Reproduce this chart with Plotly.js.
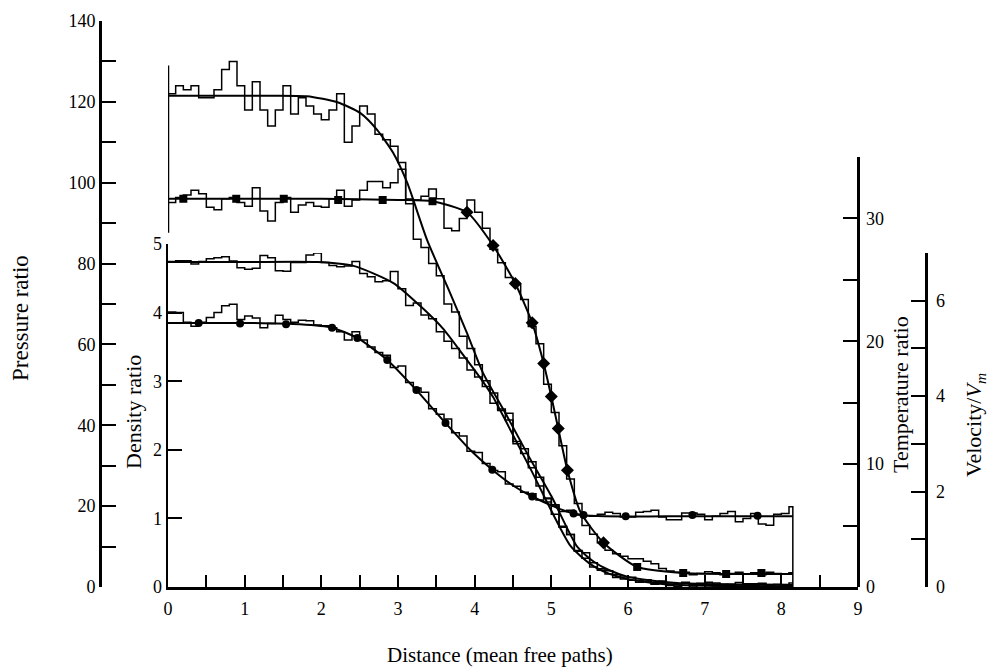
<!DOCTYPE html>
<html>
<head>
<meta charset="utf-8">
<script src="https://cdn.plot.ly/plotly-3.0.1.min.js"></script>
<style>html,body{margin:0;padding:0;background:#fff;}#chart{width:992px;height:669px;}</style>
</head>
<body>
<div id="chart"></div>
<script>
// ---------- data ----------
const histX = [0,0.1,0.2,0.3,0.4,0.5,0.6,0.7,0.8,0.9,
  1,1.1,1.2,1.3,1.4,1.5,1.6,1.7,1.8,1.9,
  2,2.1,2.2,2.3,2.4,2.5,2.6,2.7,2.8,2.9,
  3,3.1,3.2,3.3,3.4,3.5,3.6,3.7,3.8,3.9,
  4,4.1,4.2,4.3,4.4,4.5,4.6,4.7,4.8,4.9,
  5,5.1,5.2,5.3,5.4,5.5,5.6,5.7,5.8,5.9,
  6,6.1,6.2,6.3,6.4,6.5,6.6,6.7,6.8,6.9,
  7,7.1,7.2,7.3,7.4,7.5,7.6,7.7,7.8,7.9,
  8,8.1,8.15];

const pressHist = [122,124,123,124,121,121,123,128,130,124,118,125,118,114,118,124,117,121,119,117,115.6,118,122,110,114,119,117,112,110.6,109,105,96,
  86,84,80,77,70,68,62,59,55,51,48,44,43,36,33,31,25,22,18,15,13,9,8.5,6,4.5,4,3,2.5,
  2.4,1.6,1.8,1.2,1.5,1.0,0.8,1.2,0.6,0.9,0.4,1.0,0.7,0.5,1.1,0.8,0.3,0.9,0.6,0.7,0.4,1.0];
const velHist = [6.82,6.84,6.84,6.77,6.82,6.88,6.90,6.92,6.83,6.69,6.66,6.68,6.95,6.9,6.63,6.62,6.8,6.8,6.96,7.0,6.8,6.74,6.71,6.73,6.82,6.57,6.5,6.40,6.42,6.61,6.25,5.9,
  5.95,5.7,5.62,5.35,5.15,5.0,4.8,4.55,4.4,4.2,3.85,3.7,3.5,3.0,2.9,2.5,2.3,1.85,1.7,1.25,1.1,0.75,0.6,0.42,0.35,0.27,0.2,0.17,
  0.14,0.1,0.12,0.06,0.09,0.03,0.01,0.08,0.0,0.05,0.1,0.02,0.03,0.06,0.0,0.04,0.07,0.01,0.04,0.0,0.05,0.03];
const densHist = [4.01,4.0,3.86,3.80,3.86,3.93,4.0,4.1,4.12,3.9,3.95,3.92,3.78,3.84,3.96,3.9,3.86,3.89,3.88,3.82,3.81,3.78,3.72,3.6,3.72,3.6,3.5,
  3.42,3.38,3.2,3.22,2.98,2.9,2.84,2.6,2.52,2.45,2.25,2.2,1.98,1.96,1.8,1.7,1.68,1.5,1.47,1.38,1.36,1.27,1.24,1.2,1.1,1.12,1.05,1.04,
  1.03,1.06,1.09,1.07,1.02,1.02,1.09,1.1,1.12,1.02,0.98,0.98,1.08,1.08,1.06,0.98,1.03,1.07,1.1,0.95,1.0,1.07,0.92,0.9,1.06,1.07,1.17];
const tempHist = [31.3,31.7,31.9,32.3,32.0,30.9,30.7,31.6,31.7,31.3,31.0,32.5,30.6,29.8,31.3,31.7,30.5,31.1,31.3,31.0,30.9,31.6,32.3,31.0,31.5,32.3,33.0,33.0,32.5,32.9,34.0,31.2,31.5,31.8,32.4,31.6,29.2,29.0,30.0,31.5,30.5,29.2,
  27.5,26.4,25.2,24.6,23.4,21.2,19.8,16.5,14.2,11.5,8.8,6.8,5.0,4.3,3.6,3.0,2.7,2.5,2.3,2.3,2.1,1.9,1.5,1.3,1.2,
  1.2,1.0,1.1,1.25,1.15,1.0,1.1,1.2,1.05,1.15,1.0,1.2,1.1,1.05,1.15];

const pressX = [0,1.0,1.81,2.21,2.51,2.73,2.94,3.12,3.38,3.68,3.90,4.11,4.43,4.70,5.0,5.34,5.55,5.75,6.0,6.3,6.64,7.2,8.15];
const pressY = [121.5,121.5,121.4,119.9,117.2,113,107.3,100,85.8,72.7,62.8,52.9,42.0,32.5,22.5,9.9,6.3,4.2,2.5,1.6,1.0,0.7,0.5];
const velX = [0,1.0,1.95,2.42,2.94,3.33,3.59,3.81,4.11,4.24,4.73,5.25,5.51,5.75,5.99,6.3,6.68,7.3,8.15];
const velY = [6.81,6.81,6.81,6.73,6.37,5.83,5.41,4.95,4.30,3.98,2.47,0.86,0.48,0.28,0.17,0.09,0.04,0.02,0.01];
const densX = [0,1.0,1.72,2.14,2.47,2.86,3.24,3.62,3.94,4.23,4.5,4.73,5.0,5.2,5.4,5.7,6.5,8.15];
const densY = [3.85,3.85,3.83,3.78,3.63,3.31,2.87,2.39,2.0,1.71,1.48,1.33,1.19,1.1,1.05,1.03,1.03,1.03];
const tempX = [0,1.0,2.0,3.0,3.45,3.90,4.24,4.53,4.75,4.90,5.0,5.09,5.21,5.38,5.68,6.12,6.72,7.30,8.15];
const tempY = [31.6,31.6,31.6,31.5,31.4,30.5,27.8,24.7,21.5,18.2,15.5,12.9,9.5,6.1,3.6,1.63,1.14,1.06,1.05];

const tempSqX = [0.2,0.89,1.51,2.22,2.8,3.45,6.12,6.72,7.28,7.74];
const tempSqY = [31.6,31.6,31.6,31.5,31.5,31.4,1.63,1.14,1.06,1.14];
const tempDiaX = [3.90,4.24,4.53,4.75,4.90,5.0,5.09,5.21,5.68];
const tempDiaY = [30.5,27.8,24.7,21.5,18.2,15.5,12.9,9.5,3.6];
const densCircX = [0.40,0.94,1.54,2.14,2.47,2.86,3.24,3.62,4.23,4.75,5.29,5.42,5.97,6.84,7.69];
const densCircY = [3.85,3.84,3.83,3.78,3.63,3.31,2.87,2.39,1.71,1.32,1.07,1.05,1.03,1.05,1.04];

const xTicks = [0,1,2,3,4,5,6,7,8,9];
const xMinor = [0.5,1.5,2.5,3.5,4.5,5.5,6.5,7.5,8.5];
const pTicks = [0,20,40,60,80,100,120,140];
const pMinor = [10,30,50,70,90,110,130];
const dTicks = [0,1,2,3,4,5];
const tTicks = [0,10,20,30];
const tMinor = [5,15,25,35];
const vTicks = [0,2,4,6];
const vMinor = [1,3,5,7];

// ---------- traces ----------
const K = '#000';
function step(vals, ax, extra) {
  const y = vals.concat([vals[vals.length - 1]]);
  const x = histX.slice();
  if (extra) { x.push(extra[0]); y.push(extra[1]); }
  return {x: x, y: y, xaxis: 'x', yaxis: ax, mode: 'lines', line: {shape: 'hv', color: K, width: 1.5}, hoverinfo: 'skip'};
}
function curve(x, y, ax) {
  return {x: x, y: y, xaxis: 'x', yaxis: ax, mode: 'lines', line: {shape: 'spline', smoothing: 0.6, color: K, width: 2}, hoverinfo: 'skip'};
}
function marks(x, y, ax, sym, size) {
  return {x: x, y: y, xaxis: 'x', yaxis: ax, mode: 'markers', marker: {symbol: sym, size: size, color: K}, cliponaxis: false, hoverinfo: 'skip'};
}

const data = [
  step(pressHist, 'y2'),
  step(tempHist, 'y3'),
  step(velHist, 'y4'),
  step(densHist, 'y', [8.15, 0]),
  curve(pressX, pressY, 'y2'),
  curve(tempX, tempY, 'y3'),
  curve(velX, velY, 'y4'),
  curve(densX, densY, 'y'),
  marks(tempSqX, tempSqY, 'y3', 'square', 8),
  marks(tempDiaX, tempDiaY, 'y3', 'diamond', 10),
  marks(densCircX, densCircY, 'y', 'circle', 8)
];

// ---------- layout ----------
const W = 992, H = 669;
const px = v => v / W;
const py = v => 1 - v / H;
const FONT = 'Liberation Serif';
const tickFont = {family: FONT, size: 18, color: K};
function axis(extra, ticks, minor, len) {
  return Object.assign({
    showline: true, linecolor: K, linewidth: 2.5, ticks: 'inside', tickcolor: K, tickwidth: 2,
    ticklen: len, showgrid: false, zeroline: false, fixedrange: true, tickfont: tickFont,
    tickmode: 'array', tickvals: ticks, ticktext: ticks.map(String),
    minor: minor ? {tickmode: 'array', tickvals: minor, ticks: 'inside', ticklen: len, tickwidth: 2, tickcolor: K, showgrid: false} : undefined
  }, extra);
}

const layout = {
  width: W, height: H,
  margin: {l: 0, r: 0, t: 0, b: 0, pad: 0},
  paper_bgcolor: '#fff', plot_bgcolor: 'rgba(0,0,0,0)',
  showlegend: false,
  font: {family: FONT, color: K},
  xaxis: axis({domain: [px(168), px(858)], range: [0, 9], anchor: 'y', ticklabelstandoff: 4}, xTicks, xMinor, 12),
  yaxis: axis({domain: [py(587), py(244)], range: [0, 5], anchor: 'x', side: 'left'}, dTicks, null, 14),
  yaxis2: axis({domain: [py(587), py(21)], range: [0, 140], anchor: 'free', position: px(100), side: 'left', ticklabelstandoff: 0}, pTicks, pMinor, 14),
  yaxis3: axis({domain: [py(587), py(157)], range: [0, 35], anchor: 'free', position: px(858), side: 'right', ticklabelstandoff: 3}, tTicks, tMinor, 14),
  yaxis4: axis({domain: [py(587), py(253)], range: [0, 7], anchor: 'free', position: px(926), side: 'right', ticklabelstandoff: 5}, vTicks, vMinor, 14),
  shapes: [
    {type: 'line', xref: 'x', yref: 'y2', x0: 0, x1: 0, y0: 87.6, y1: 129, line: {color: K, width: 2.5}}
  ],
  annotations: [
    {text: 'Distance (mean free paths)', xref: 'paper', yref: 'paper', x: px(500), y: py(655), showarrow: false,
      xanchor: 'center', yanchor: 'middle', font: {family: FONT, size: 21, color: K}},
    {text: 'Pressure ratio', xref: 'paper', yref: 'paper', x: px(20), y: py(318), showarrow: false, textangle: -90,
      xanchor: 'center', yanchor: 'middle', font: {family: FONT, size: 23, color: K}},
    {text: 'Density ratio', xref: 'paper', yref: 'paper', x: px(133), y: py(412), showarrow: false, textangle: -90,
      xanchor: 'center', yanchor: 'middle', font: {family: FONT, size: 22, color: K}},
    {text: 'Temperature ratio', xref: 'paper', yref: 'paper', x: px(900), y: py(395), showarrow: false, textangle: -90,
      xanchor: 'center', yanchor: 'middle', font: {family: FONT, size: 22, color: K}},
    {text: 'Velocity/<i>V</i><sub><i>m</i></sub>', xref: 'paper', yref: 'paper', x: px(975), y: py(425), showarrow: false, textangle: -90,
      xanchor: 'center', yanchor: 'middle', font: {family: FONT, size: 22, color: K}}
  ]
};

Plotly.newPlot('chart', data, layout, {displayModeBar: false, staticPlot: true});
</script>
</body>
</html>
